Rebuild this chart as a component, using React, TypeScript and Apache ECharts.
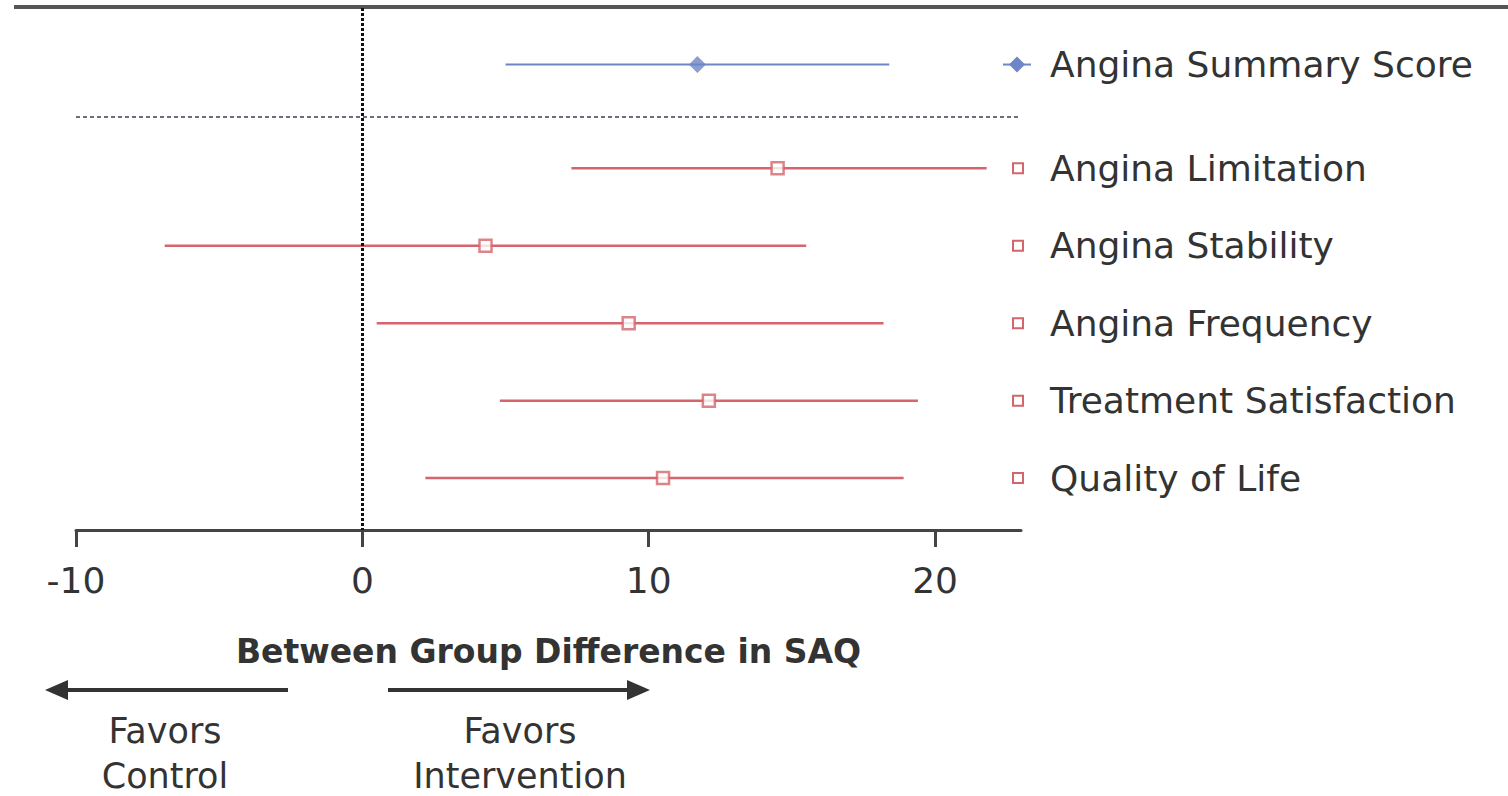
import React, { useEffect, useRef } from "react";
import * as echarts from "echarts";

const categories = [
  "Angina Summary Score",
  "Angina Limitation",
  "Angina Stability",
  "Angina Frequency",
  "Treatment Satisfaction",
  "Quality of Life",
];
const estimates = [11.7, 14.5, 4.3, 9.3, 12.1, 10.5];
const lowerCI = [5.0, 7.3, -6.9, 0.5, 4.8, 2.2];
const upperCI = [18.4, 21.8, 15.5, 18.2, 19.4, 18.9];
const rowPos = [-0.34, 1, 2, 3, 4, 5];
const separatorPos = 0.33;
const xTicks = [-10, 0, 10, 20];

const BLUE = "#6d86c7";
const RED = "#d4656a";
const TXT = "#333333";
const FONT = "DejaVu Sans";

export default function App() {
  const ref = useRef<HTMLDivElement>(null);
  useEffect(() => {
    if (!ref.current) return;
    const chart = echarts.init(ref.current, null, { renderer: "svg" });
    const option: any = {
      animation: false,
      backgroundColor: "#ffffff",
      grid: { left: 76, right: 487, top: 8, bottom: 266 },
      xAxis: {
        type: "value",
        min: -10,
        max: 23,
        interval: 10,
        splitLine: { show: false },
        axisLine: { onZero: false, lineStyle: { color: "#444", width: 3 } },
        axisTick: { customValues: xTicks, length: 17, lineStyle: { color: "#444", width: 3 } },
        axisLabel: { customValues: xTicks, fontSize: 36, color: TXT, margin: 32, fontFamily: FONT },
        name: "Between Group Difference in SAQ",
        nameLocation: "middle",
        nameGap: 105,
        nameTextStyle: { fontSize: 33, fontWeight: "bold", color: TXT, fontFamily: FONT },
      },
      yAxis: { type: "value", inverse: true, min: -1.07, max: 5.67, show: false },
      series: [
        {
          type: "custom",
          encode: { x: [0, 1], y: 2 },
          data: categories.map((c, i) => [lowerCI[i], upperCI[i], rowPos[i], i === 0 ? 0 : 1]),
          renderItem: (params: any, api: any) => {
            const y = api.value(2);
            const p1 = api.coord([api.value(0), y]);
            const p2 = api.coord([api.value(1), y]);
            const isSummary = api.value(3) === 0;
            return {
              type: "line",
              shape: { x1: p1[0], y1: p1[1], x2: p2[0], y2: p2[1] },
              style: { stroke: isSummary ? BLUE : RED, lineWidth: isSummary ? 2 : 2.5 },
            };
          },
          z: 2,
        },
        {
          type: "scatter",
          data: [[estimates[0], rowPos[0]]],
          symbol: "diamond",
          symbolSize: 17,
          itemStyle: { color: BLUE },
          z: 4,
        },
        {
          type: "scatter",
          data: categories.slice(1).map((c, i) => [estimates[i + 1], rowPos[i + 1]]),
          symbol: "rect",
          symbolSize: 12,
          itemStyle: { color: "#ffffff", borderColor: RED, borderWidth: 2.5 },
          z: 4,
          markLine: {
            silent: true,
            symbol: "none",
            label: { show: false },
            data: [
              { xAxis: 0, lineStyle: { type: [3, 2], color: "#111", width: 3 } },
              { yAxis: separatorPos, lineStyle: { type: [4, 3], color: "#6a6f80", width: 2 } },
            ],
          },
        },
      ],
    };
    chart.setOption(option);

    const graphics: any[] = [
      { type: "line", shape: { x1: 14, y1: 7, x2: 1508, y2: 7 }, style: { stroke: "#555", lineWidth: 4 } },
      // arrows
      { type: "line", shape: { x1: 62, y1: 690, x2: 288, y2: 690 }, style: { stroke: "#333", lineWidth: 4 } },
      { type: "polygon", shape: { points: [[45, 690], [68, 680], [68, 700]] }, style: { fill: "#333" } },
      { type: "line", shape: { x1: 388, y1: 690, x2: 632, y2: 690 }, style: { stroke: "#333", lineWidth: 4 } },
      { type: "polygon", shape: { points: [[650, 690], [627, 680], [627, 700]] }, style: { fill: "#333" } },
      {
        type: "text",
        x: 165,
        y: 708,
        style: { text: "Favors\nControl", fontSize: 35, fill: TXT, align: "center", lineHeight: 45, fontFamily: FONT },
      },
      {
        type: "text",
        x: 520,
        y: 708,
        style: { text: "Favors\nIntervention", fontSize: 35, fill: TXT, align: "center", lineHeight: 45, fontFamily: FONT },
      },
    ];
    categories.forEach((c, i) => {
      const py = chart.convertToPixel({ yAxisIndex: 0 }, rowPos[i]) as number;
      if (i === 0) {
        graphics.push({ type: "line", shape: { x1: 1003, y1: py, x2: 1031, y2: py }, style: { stroke: BLUE, lineWidth: 2 } });
        graphics.push({
          type: "polygon",
          shape: { points: [[1017, py - 8], [1025, py], [1017, py + 8], [1009, py]] },
          style: { fill: BLUE },
        });
      } else {
        graphics.push({
          type: "rect",
          shape: { x: 1013, y: py - 5, width: 10, height: 10 },
          style: { fill: "#fff", stroke: RED, lineWidth: 2 },
        });
      }
      graphics.push({
        type: "text",
        x: 1050,
        y: py,
        style: { text: c, fontSize: 36, fill: TXT, verticalAlign: "middle", fontFamily: FONT },
      });
    });
    chart.setOption({ graphic: graphics });
    return () => chart.dispose();
  }, []);
  return <div ref={ref} style={{ position: "fixed", left: 0, top: 0, width: 1508, height: 796 }} />;
}
